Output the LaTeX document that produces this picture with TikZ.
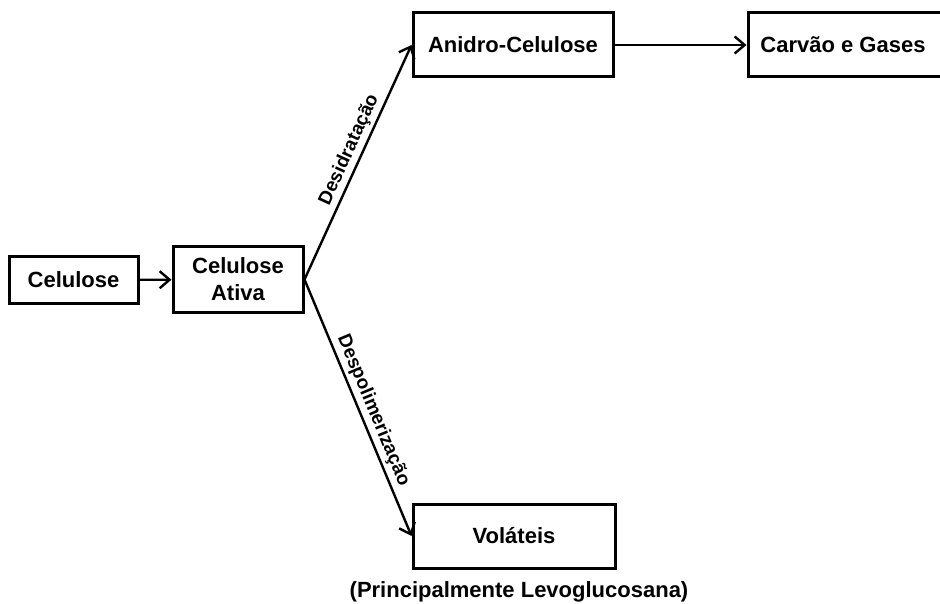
\documentclass[tikz,border=0pt]{standalone}
\usepackage{fontspec}
\setmainfont{Liberation Sans}
\usetikzlibrary{arrows.meta,positioning}

\begin{document}
\begin{tikzpicture}[x=1pt,y=-1pt,
  stage/.style={draw,line width=3pt,fill=white,align=center,inner sep=0pt,
    font=\fontsize{22}{27}\selectfont\bfseries},
  flow/.style={line width=2.4pt,-{Straight Barb[length=10pt,width=17pt,line width=2.4pt]}},
  route/.style={sloped,above,pos=0.53,inner sep=3pt,font=\fontsize{19}{22}\selectfont\bfseries}]
\useasboundingbox (0,0) rectangle (940,604);
\node[stage,minimum width=129pt,minimum height=46pt] (cel) at (73.5,280) {Celulose};
\node[stage,minimum width=130pt,minimum height=65pt] (ativa) at (238,279.5) {Celulose\\Ativa};
\node[stage,minimum width=200pt,minimum height=64pt] (anidro) at (513,45) {Anidro-Celulose};
\node[stage,minimum width=198pt,minimum height=64pt] (carvao) at (847,45) {\hspace*{-8pt}Carv\~ao e Gases};
\node[stage,minimum width=202pt,minimum height=64pt] (volateis) at (514,536) {Vol\'ateis};
\node[font=\fontsize{22}{26}\selectfont\bfseries] (levo) at (519,592) {(Principalmente Levoglucosana)};
% ligacoes
\draw[flow] (cel) -- (ativa);
\draw[flow] (ativa.east) -- node[route] {Desidrata\c{c}\~ao} (anidro.west);
\draw[flow] (ativa.east) -- node[route] {Despolimeriza\c{c}\~ao} (volateis.west);
\draw[flow] (anidro) -- (carvao);
\end{tikzpicture}
\end{document}
